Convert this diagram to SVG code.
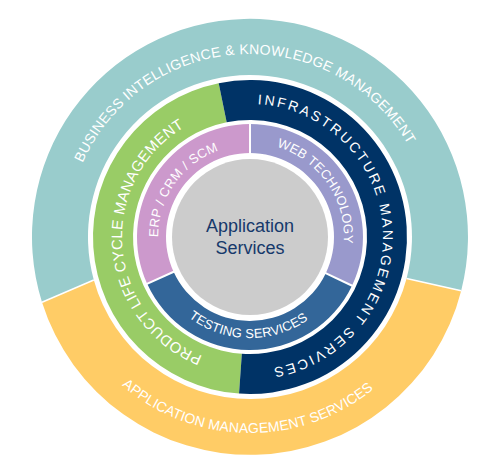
<svg xmlns="http://www.w3.org/2000/svg" width="500" height="474" viewBox="0 0 500 474">
<style>
.lbl{font-family:"Liberation Sans",Arial,Helvetica,sans-serif;font-size:13px;fill:#ffffff}
.ctr{font-family:"Liberation Sans",Arial,Helvetica,sans-serif;font-size:18px;fill:#16396b;text-anchor:middle}
.sep{stroke:#ffffff;stroke-width:2;fill:none}
.sep1{stroke:#ffffff;stroke-width:1.5;fill:none}
</style>
<defs>
<path id="p-bi" d="M82.69,162.86 A183,183 0 0 1 421.96,174.41"/>
<path id="p-ams" d="M121.93,385.37 A196,196 0 0 0 400.14,362.99"/>
<path id="p-plcm" d="M202.46,355.85 A128,128 0 0 1 206.22,116.72"/>
<path id="p-ims" d="M257.66,104.22 A133,133 0 1 1 226.91,367.98"/>
<path id="p-erp" d="M158,237 A92,92 0 0 1 265.98,146.40"/>
<path id="p-web" d="M276.70,146.87 A94,94 0 0 1 338.33,269.15"/>
<path id="p-test" d="M188.65,317.24 A101,101 0 0 0 321.42,308.42"/>
</defs>
<rect width="500" height="474" fill="#ffffff"/>

<g id="bi-km">
<path d="M42.0,302.2 A218,218 0 1 1 461.2,290.8 L406.6,278.4 A162,162 0 1 0 93.8,280.0 Z" fill="#99cccc"/>
<text class="lbl" style="font-size:14px" letter-spacing="0.3"><textPath href="#p-bi">BUSINESS INTELLIGENCE &amp; KNOWLEDGE MANAGEMENT</textPath></text>
</g>
<g id="ams">
<path d="M461.2,290.8 A218,218 0 0 1 42.0,302.2 L93.8,280.0 A162,162 0 0 0 406.6,278.4 Z" fill="#ffcc66"/>
<text class="lbl" style="font-size:14px" letter-spacing="0.1"><textPath href="#p-ams">APPLICATION MANAGEMENT SERVICES</textPath></text>
</g>
<g id="plcm">
<path d="M239.05,393.62 A157,157 0 0 1 218.70,83.15 L226.67,122.35 A117,117 0 0 0 241.84,353.71 Z" fill="#99cc66"/>
<text class="lbl" style="font-size:15px" letter-spacing="0.3"><textPath href="#p-plcm">PRODUCT LIFE CYCLE MANAGEMENT</textPath></text>
</g>
<g id="ims">
<path d="M218.70,83.15 A157,157 0 1 1 239.05,393.62 L241.84,353.71 A117,117 0 1 0 226.67,122.35 Z" fill="#003366"/>
<text class="lbl" style="font-size:14px" letter-spacing="2.4"><textPath href="#p-ims">INFRASTRUCTURE MANAGEMENT SERVICES</textPath></text>
</g>
<g id="erp">
<path d="M147.17,283.86 A113,113 0 0 1 250,124 L250,153 A84,84 0 0 0 173.56,271.83 Z" fill="#cc99cc"/>
<text class="lbl" letter-spacing="0.4"><textPath href="#p-erp">ERP / CRM / SCM</textPath></text>
</g>
<g id="web">
<path d="M250,124 A113,113 0 0 1 351.99,285.65 L325.82,273.16 A84,84 0 0 0 250,153 Z" fill="#9999cc"/>
<text class="lbl" letter-spacing="0.2"><textPath href="#p-web">WEB TECHNOLOGY</textPath></text>
</g>
<g id="testing">
<path d="M351.99,285.65 A113,113 0 0 1 147.17,283.86 L173.56,271.83 A84,84 0 0 0 325.82,273.16 Z" fill="#336699"/>
<text class="lbl" letter-spacing="0.15"><textPath href="#p-test">TESTING SERVICES</textPath></text>
</g>
<g id="app-services">
<circle cx="250" cy="237" r="78" fill="#cccccc"/>
<text class="ctr" x="250" y="232">Application</text>
<text class="ctr" x="250" y="254">Services</text>
</g>
<g id="connectors">
<line class="sep1" x1="42.0" y1="302.2" x2="93.8" y2="280.0"/>
<line class="sep1" x1="461.2" y1="290.8" x2="406.6" y2="278.4"/>
<line class="sep" x1="250" y1="122" x2="250" y2="155"/>
<line class="sep" x1="145.3" y1="284.7" x2="175.4" y2="271.0"/>
<line class="sep" x1="353.8" y1="286.5" x2="324.0" y2="272.3"/>
</g>
</svg>
